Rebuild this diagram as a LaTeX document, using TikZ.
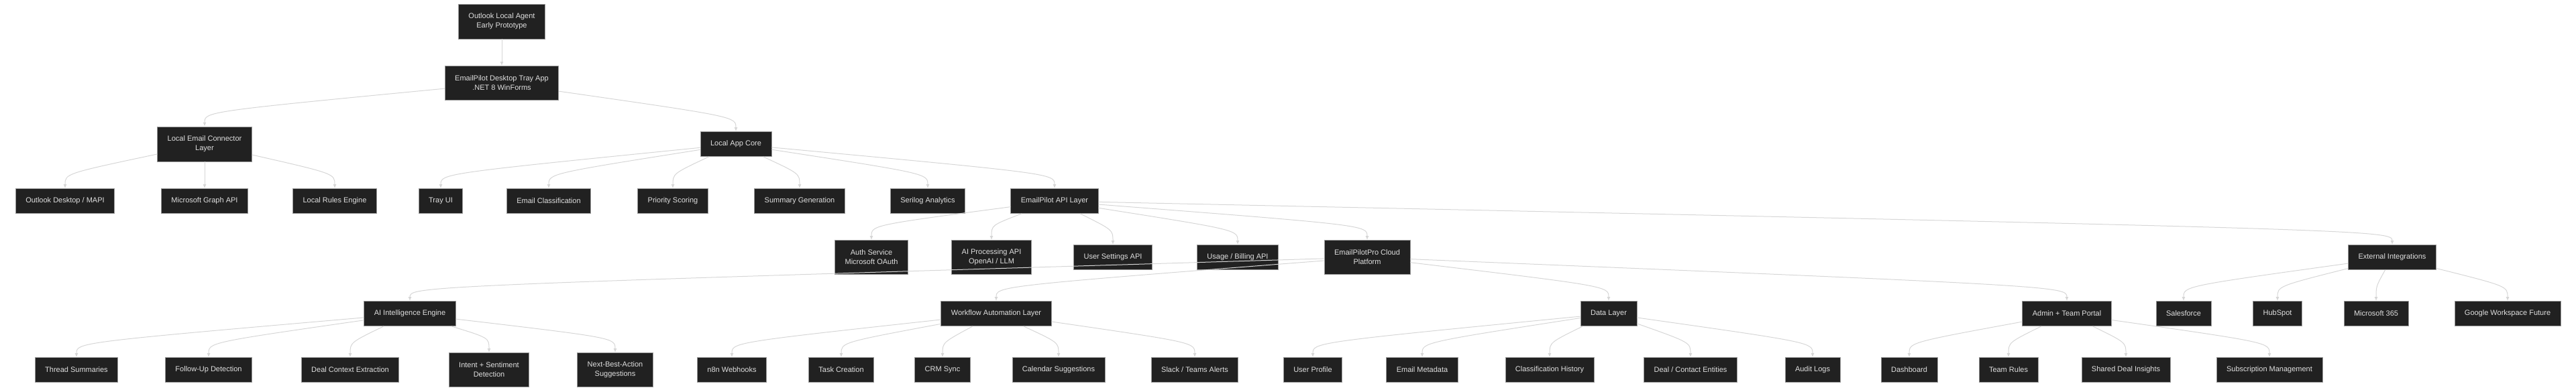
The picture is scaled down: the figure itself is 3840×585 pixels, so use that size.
\documentclass[tikz,border=0pt]{standalone}
\usepackage{fontspec}
\setmainfont{Liberation Sans}
\usetikzlibrary{arrows.meta,calc}
\newcommand{\lnk}[2]{\draw[link] (#1) .. controls ($(#2.north)+(0,-22)$) .. (#2.north);}

\begin{document}
\begin{tikzpicture}
[x=1pt,y=-1pt,
box/.style={fill=black!87,draw=black!40,line width=0.8pt,text=black!12,
font=\fontsize{11}{14}\selectfont,align=center,inner xsep=15pt,
minimum height=37pt},
link/.style={draw=black!16,line width=1pt,-{Latex[length=6pt,width=5pt]}}]
\useasboundingbox (0,0) rectangle (3840,585);
% level 0-2
\node (root) at (748,32) [box,minimum height=52pt] {Outlook Local Agent\\Early Prototype};
\node (tray) at (748,124) [box,minimum height=51pt] {EmailPilot Desktop Tray App\\.NET 8 WinForms};
\node (conn) at (305,215) [box,minimum height=52pt] {Local Email Connector\\Layer};
\node (core) at (1097,215) [box] {Local App Core};
% level 3
\node (mapi) at (97,300) [box] {Outlook Desktop / MAPI};
\node (graph) at (305,300) [box] {Microsoft Graph API};
\node (rules) at (499,300) [box] {Local Rules Engine};
\node (trayui) at (657,300) [box] {Tray UI};
\node (classif) at (818,300) [box] {Email Classification};
\node (prio) at (1003,300) [box] {Priority Scoring};
\node (summ) at (1192,300) [box] {Summary Generation};
\node (serilog) at (1383,300) [box] {Serilog Analytics};
\node (api) at (1572,300) [box] {EmailPilot API Layer};
% level 4
\node (auth) at (1299,384) [box,minimum height=51pt] {Auth Service\\Microsoft OAuth};
\node (aiproc) at (1478,384) [box,minimum height=51pt] {AI Processing API\\OpenAI / LLM};
\node (settings) at (1659,384) [box] {User Settings API};
\node (billing) at (1845,384) [box] {Usage / Billing API};
\node (cloud) at (2038,384) [box,minimum height=51pt] {EmailPilotPro Cloud\\Platform};
\node (ext) at (3566,384) [box] {External Integrations};
% level 5
\node (aieng) at (611,468) [box] {AI Intelligence Engine};
\node (wf) at (1485,468) [box] {Workflow Automation Layer};
\node (data) at (2398,468) [box] {Data Layer};
\node (admin) at (3081,468) [box] {Admin + Team Portal};
\node (sf) at (3255,468) [box] {Salesforce};
\node (hub) at (3395,468) [box] {HubSpot};
\node (m365) at (3542,468) [box] {Microsoft 365};
\node (gws) at (3738,468) [box] {Google Workspace Future};
% level 6
\node (thread) at (114,552) [box] {Thread Summaries};
\node (follow) at (311,552) [box] {Follow-Up Detection};
\node (dealctx) at (522,552) [box] {Deal Context Extraction};
\node (intent) at (729,552) [box,minimum height=51pt] {Intent + Sentiment\\Detection};
\node (nba) at (917,552) [box,minimum height=51pt] {Next-Best-Action\\Suggestions};
\node (n8n) at (1091,552) [box] {n8n Webhooks};
\node (task) at (1254,552) [box] {Task Creation};
\node (crm) at (1405,552) [box] {CRM Sync};
\node (cal) at (1578,552) [box] {Calendar Suggestions};
\node (slack) at (1781,552) [box] {Slack / Teams Alerts};
\node (profile) at (1957,552) [box] {User Profile};
\node (meta) at (2120,552) [box] {Email Metadata};
\node (hist) at (2310,552) [box] {Classification History};
\node (deal) at (2520,552) [box] {Deal / Contact Entities};
\node (audit) at (2702,552) [box] {Audit Logs};
\node (dash) at (2846,552) [box] {Dashboard};
\node (teamrules) at (2994,552) [box] {Team Rules};
\node (shared) at (3169,552) [box] {Shared Deal Insights};
\node (subs) at (3383,552) [box] {Subscription Management};

\begin{scope}[on background layer/.style={}]
\lnk{root}{tray}
\lnk{tray}{conn} \lnk{tray}{core}
\lnk{conn}{mapi} \lnk{conn}{graph} \lnk{conn}{rules}
\lnk{core}{trayui} \lnk{core}{classif} \lnk{core}{prio}
\lnk{core}{summ} \lnk{core}{serilog} \lnk{core}{api}
\lnk{api}{auth} \lnk{api}{aiproc} \lnk{api}{settings}
\lnk{api}{billing} \lnk{api}{cloud} \lnk{api}{ext}
\lnk{cloud}{aieng} \lnk{cloud}{wf} \lnk{cloud}{data} \lnk{cloud}{admin}
\lnk{ext}{sf} \lnk{ext}{hub} \lnk{ext}{m365} \lnk{ext}{gws}
\lnk{aieng}{thread} \lnk{aieng}{follow} \lnk{aieng}{dealctx}
\lnk{aieng}{intent} \lnk{aieng}{nba}
\lnk{wf}{n8n} \lnk{wf}{task} \lnk{wf}{crm} \lnk{wf}{cal} \lnk{wf}{slack}
\lnk{data}{profile} \lnk{data}{meta} \lnk{data}{hist} \lnk{data}{deal} \lnk{data}{audit}
\lnk{admin}{dash} \lnk{admin}{teamrules} \lnk{admin}{shared} \lnk{admin}{subs}
\end{scope}
\end{tikzpicture}
\end{document}
